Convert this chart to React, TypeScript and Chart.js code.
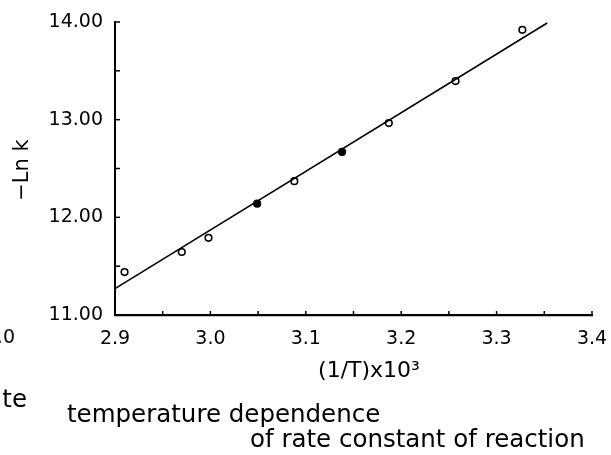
import React, { useEffect, useRef } from "react";
import { Chart, registerables } from "chart.js";

Chart.register(...registerables);

// data
const invT = [2.91, 2.97, 2.998, 3.049, 3.088, 3.138, 3.187, 3.257, 3.327];
const negLnK = [11.44, 11.645, 11.79, 12.14, 12.37, 12.67, 12.965, 13.395, 13.92];
const filled = [false, false, false, true, false, true, false, false, false];
const fitX = [2.9, 3.353];
const fitY = [11.27, 13.99];
const xMin = 2.9, xMax = 3.4, xStep = 0.1, xMinorStep = 0.05;
const yMin = 11, yMax = 14, yStep = 1, yMinorStep = 0.5;

const FONT = "'DejaVu Sans', sans-serif";

const innerTicks = {
  id: "innerTicks",
  afterDraw(chart: any) {
    const { ctx, chartArea, scales } = chart;
    const xs = scales.x, ys = scales.y;
    ctx.save();
    ctx.strokeStyle = "#000";
    ctx.lineWidth = 1.5;
    const ny = Math.round((yMax - yMin) / yMinorStep);
    for (let i = 0; i <= ny; i++) {
      const y = ys.getPixelForValue(yMin + i * yMinorStep);
      ctx.beginPath();
      ctx.moveTo(chartArea.left, y);
      ctx.lineTo(chartArea.left + 5, y);
      ctx.stroke();
    }
    const nx = Math.round((xMax - xMin) / xMinorStep);
    for (let i = 0; i <= nx; i++) {
      const x = xs.getPixelForValue(xMin + i * xMinorStep);
      ctx.beginPath();
      ctx.moveTo(x, chartArea.bottom);
      ctx.lineTo(x, chartArea.bottom - 4);
      ctx.stroke();
    }
    ctx.restore();
  },
};

const txt = (extra: React.CSSProperties): React.CSSProperties => ({
  position: "absolute",
  whiteSpace: "nowrap",
  fontFamily: FONT,
  lineHeight: 1,
  color: "#000",
  ...extra,
});

export default function App() {
  const ref = useRef<HTMLCanvasElement>(null);
  useEffect(() => {
    if (!ref.current) return;
    const chart = new Chart(ref.current, {
      type: "scatter",
      data: {
        datasets: [
          {
            label: "fit",
            data: fitX.map((x, i) => ({ x, y: fitY[i] })),
            showLine: true,
            borderColor: "#000",
            borderWidth: 1.6,
            pointRadius: 0,
          },
          {
            label: "data",
            data: invT.map((x, i) => ({ x, y: negLnK[i] })),
            showLine: false,
            pointRadius: 3.3,
            pointBorderWidth: 1.6,
            pointBorderColor: "#000",
            pointBackgroundColor: filled.map((f) => (f ? "#000" : "#fff")),
          },
        ],
      },
      options: {
        responsive: false,
        animation: false,
        layout: { padding: { left: 0, right: 19, top: 22, bottom: 80 } },
        plugins: { legend: { display: false }, tooltip: { enabled: false } },
        scales: {
          x: {
            type: "linear",
            min: xMin,
            max: xMax,
            grid: { display: false, drawTicks: false },
            border: { display: true, color: "#000", width: 2.2 },
            ticks: {
              stepSize: xStep,
              padding: 13,
              color: "#000",
              font: { family: FONT, size: 19 },
              callback: (v: any) => Number(v).toFixed(1),
            },
            afterFit: (s: any) => {
              s.height = 60;
              s.paddingLeft = 0;
              s.paddingRight = 0;
            },
          },
          y: {
            type: "linear",
            min: yMin,
            max: yMax,
            grid: { display: false, drawTicks: false },
            border: { display: true, color: "#000", width: 2 },
            ticks: {
              stepSize: yStep,
              padding: 12,
              color: "#000",
              font: { family: FONT, size: 19 },
              callback: (v: any) => Number(v).toFixed(2),
            },
            afterFit: (s: any) => {
              s.width = 115;
              s.paddingTop = 0;
              s.paddingBottom = 0;
            },
          },
        },
      },
      plugins: [innerTicks],
    });
    return () => chart.destroy();
  }, []);

  return (
    <div
      style={{
        position: "absolute",
        left: 0,
        top: 0,
        width: 611,
        height: 455,
        overflow: "hidden",
        background: "#fff",
      }}
    >
      <canvas ref={ref} width={611} height={455} style={{ position: "absolute", left: 0, top: 0 }} />
      <div
        style={txt({
          left: 21,
          top: 170,
          fontSize: 21,
          transform: "translate(-50%, -50%) rotate(-90deg)",
        })}
      >
        −Ln k
      </div>
      <div style={txt({ left: 369, top: 359, fontSize: 22, transform: "translateX(-50%)" })}>
        (1/T)x10³
      </div>
      <div style={txt({ right: 611 - 27, top: 387, fontSize: 24.5 })}>rate</div>
      <div style={txt({ right: 611 - 15, top: 327, fontSize: 19 })}>4.0</div>
      <div style={txt({ left: 67, top: 402, fontSize: 24.5 })}>temperature dependence</div>
      <div style={txt({ left: 250, top: 427, fontSize: 24.5 })}>of rate constant of reaction</div>
    </div>
  );
}
